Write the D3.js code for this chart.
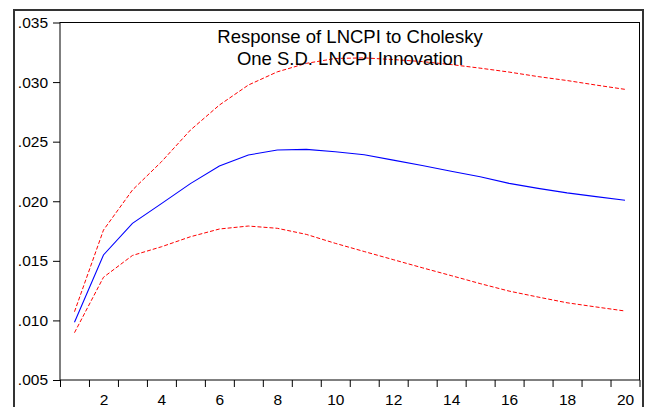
<!DOCTYPE html>
<html>
<head>
<meta charset="utf-8">
<script src="https://cdn.jsdelivr.net/npm/d3@7"></script>
<style>
  html, body { margin: 0; padding: 0; background: #fff; }
  svg { display: block; }
  text { font-family: "Liberation Sans", Arial, sans-serif; }
</style>
</head>
<body>
<svg id="chart" width="648" height="407"></svg>
<script>
// ---- data ----
const periods = d3.range(1, 21);
const response = [0.00985, 0.01549, 0.01815, 0.01980, 0.02148, 0.02295, 0.02388, 0.02430, 0.02435, 0.02415,
                  0.02390, 0.02345, 0.02300, 0.02252, 0.02205, 0.02150, 0.02108, 0.02070, 0.02039, 0.02008];
const upperBand = [0.01073, 0.01758, 0.02094, 0.02331, 0.02597, 0.02807, 0.02975, 0.03086, 0.03157, 0.03198,
                   0.03203, 0.03189, 0.03172, 0.03147, 0.03117, 0.03084, 0.03046, 0.03013, 0.02975, 0.02939];
const lowerBand = [0.00897, 0.01362, 0.01545, 0.01618, 0.01702, 0.01767, 0.01792, 0.01773, 0.01722, 0.01647,
                   0.01578, 0.01510, 0.01442, 0.01376, 0.01309, 0.01246, 0.01196, 0.01148, 0.01113, 0.01079];
const yTicks = [0.005, 0.010, 0.015, 0.020, 0.025, 0.030, 0.035];
const yTickLabels = [".005", ".010", ".015", ".020", ".025", ".030", ".035"];
const xLabelTicks = [2, 4, 6, 8, 10, 12, 14, 16, 18, 20];
const titleLines = ["Response of LNCPI to Cholesky", "One S.D. LNCPI Innovation"];

// ---- layout ----
const svg = d3.select("#chart");
const L = 60, R = 639.5, T = 22.5, B = 380;
const x = d3.scaleLinear().domain([0.5, 20.5]).range([L, R]);
const y = d3.scaleLinear().domain([0.005, 0.035]).range([B, T]);

// outer frame
svg.append("rect")
  .attr("x", 14).attr("y", 10).attr("width", 629).attr("height", 420)
  .attr("fill", "none").attr("stroke", "#333").attr("stroke-width", 2);

// plot frame
svg.append("rect")
  .attr("x", L).attr("y", T).attr("width", R - L).attr("height", B - T)
  .attr("fill", "#fff").attr("stroke", "#000").attr("stroke-width", 1);

// y axis
const yAxis = d3.axisLeft(y).tickValues(yTicks)
  .tickFormat((d, i) => yTickLabels[i]).tickSize(7).tickSizeOuter(0).tickPadding(5);
const gy = svg.append("g").attr("transform", `translate(${L},0)`).call(yAxis);
gy.select(".domain").remove();
gy.selectAll("text").attr("font-size", "15.5px").attr("fill", "#000")
  .attr("font-family", "'Liberation Sans', Arial, sans-serif");
gy.selectAll("line").attr("stroke", "#000");

// x axis: ticks at period boundaries
const xBound = d3.range(0.5, 21, 1);
const xAxis = d3.axisBottom(x).tickValues(xBound).tickFormat("").tickSize(7).tickSizeOuter(0);
const gx = svg.append("g").attr("transform", `translate(0,${B})`).call(xAxis);
gx.select(".domain").remove();
gx.selectAll("line").attr("stroke", "#000");

// x labels
const xAxisLab = d3.axisBottom(x).tickValues(xLabelTicks).tickFormat(d3.format("d"))
  .tickSize(0).tickSizeOuter(0).tickPadding(14);
const gxl = svg.append("g").attr("transform", `translate(0,${B})`).call(xAxisLab);
gxl.select(".domain").remove();
gxl.selectAll("text").attr("font-size", "15.5px").attr("fill", "#000")
  .attr("font-family", "'Liberation Sans', Arial, sans-serif");

// lines
const line = d3.line().x((d, i) => x(periods[i])).y(d => y(d));
svg.append("path").datum(upperBand).attr("d", line)
  .attr("fill", "none").attr("stroke", "#ff0000").attr("stroke-width", 1).attr("stroke-dasharray", "4,2");
svg.append("path").datum(lowerBand).attr("d", line)
  .attr("fill", "none").attr("stroke", "#ff0000").attr("stroke-width", 1).attr("stroke-dasharray", "4,2");
svg.append("path").datum(response).attr("d", line)
  .attr("fill", "none").attr("stroke", "#0000ff").attr("stroke-width", 1.1);

// title
svg.append("g").selectAll("text").data(titleLines).join("text")
  .attr("x", 350).attr("y", (d, i) => 43 + i * 22)
  .attr("text-anchor", "middle").attr("font-size", "18.5px").attr("fill", "#000")
  .text(d => d);
</script>
</body>
</html>
